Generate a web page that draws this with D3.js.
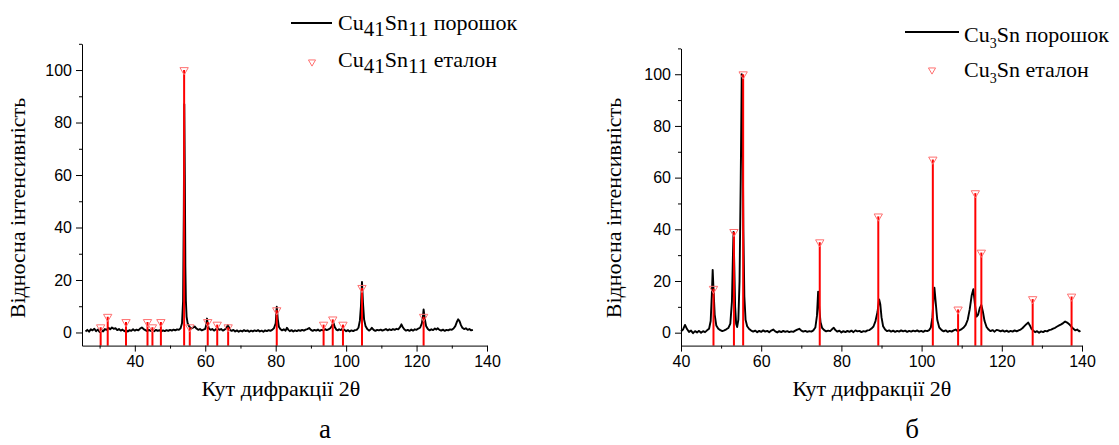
<!DOCTYPE html>
<html>
<head>
<meta charset="utf-8">
<script src="https://cdn.jsdelivr.net/npm/d3@7"></script>
<style>
  body { margin: 0; background: #fff; }
</style>
</head>
<body>
<script>
'use strict';

// powder pattern (a): [2theta, relative intensity]
const powderA = [
  [26,0.4],[26.5,1.0],[27,0.3],[27.5,1.2],[28,0.8],[28.5,1.4],[29,0.5],[29.5,1.1],[30,0.2],[30.5,0.9],
  [31,0.4],[31.5,1.3],[32,1.0],[32.5,1.8],[33,1.2],[33.5,1.9],[34,1.4],[34.5,1.6],[35,0.9],[35.5,1.3],
  [36,0.7],[36.5,1.1],[37,0.5],[37.5,1.0],[38,0.4],[38.5,0.9],[39,0.6],[39.5,1.2],[40,0.7],[40.5,1.1],
  [41,0.8],[41.5,1.5],[42,1.9],[42.5,1.3],[43,0.9],[43.5,0.5],[44,1.0],[44.5,0.6],[45,1.1],[45.5,0.5],
  [46,1.0],[46.5,0.6],[47,0.9],[47.5,0.4],[48,0.8],[48.5,0.5],[49,0.9],[49.5,0.6],[50,1.0],[50.5,0.7],
  [51,1.1],[51.5,0.8],[52,1.2],[52.5,1.0],[53,1.6],[53.4,3.5],[53.7,12],[53.9,45],[54.05,87],[54.2,60],
  [54.35,25],[54.5,12],[54.7,6],[55,3.5],[55.5,2.2],[56,1.5],[56.5,1.8],[57,2.3],[57.5,1.5],[58,1.0],
  [58.5,1.3],[59,0.8],[59.5,1.1],[60,1.4],[60.3,3.0],[60.5,5.3],[60.7,3.2],[61,1.6],[61.5,1.0],[62,1.3],
  [62.5,0.7],[63,1.2],[63.5,1.8],[64,1.0],[64.5,1.3],[65,0.7],[65.5,1.1],[66,1.6],[66.4,2.8],[66.8,1.7],
  [67,1.0],[67.5,0.6],[68,1.0],[68.5,0.4],[69,0.8],[69.5,0.3],[70,0.7],[70.5,0.4],[71,0.9],[71.5,0.5],
  [72,0.8],[72.5,0.3],[73,0.7],[73.5,0.4],[74,0.8],[74.5,0.5],[75,0.9],[75.5,0.4],[76,0.7],[76.5,0.3],
  [77,0.8],[77.5,0.5],[78,0.9],[78.5,0.6],[79,1.0],[79.5,1.6],[80,3.5],[80.3,9.8],[80.6,5.0],[80.9,2.2],
  [81.3,1.3],[81.8,0.8],[82.3,1.2],[82.8,0.7],[83.2,1.8],[83.6,1.0],[84,0.5],[84.5,0.9],[85,0.4],[85.5,0.8],
  [86,0.5],[86.5,0.9],[87,0.6],[87.5,1.0],[88,0.7],[88.5,1.1],[89,1.3],[89.5,1.7],[90,1.0],[90.5,0.6],
  [91,1.0],[91.5,0.7],[92,1.1],[92.5,0.6],[93,1.0],[93.5,0.8],[94,1.3],[94.5,0.9],[95,1.2],[95.5,1.6],
  [96,2.6],[96.4,3.7],[96.8,2.0],[97.2,1.1],[97.6,0.8],[98,1.2],[98.5,0.9],[99,1.5],[99.5,1.0],[100,0.5],
  [100.5,0.9],[101,0.4],[101.5,0.8],[102,0.5],[102.5,0.9],[103,1.0],[103.5,1.8],[103.9,4.5],[104.2,10],[104.5,19.3],
  [104.8,11],[105.1,5],[105.5,2.5],[106,1.3],[106.5,0.7],[107,1.2],[107.3,1.8],[107.8,1.0],[108.3,0.6],[108.8,1.0],
  [109.3,0.8],[109.8,1.1],[110.3,0.7],[110.8,1.0],[111.3,1.3],[111.8,0.8],[112.3,1.2],[112.8,0.9],[113.3,1.3],[113.8,1.0],
  [114.3,1.4],[114.8,1.2],[115.3,2.0],[115.7,3.1],[116.1,2.0],[116.5,1.2],[117,0.7],[117.5,1.0],[118,0.6],[118.5,1.1],
  [119,0.7],[119.5,1.2],[120,1.0],[120.5,1.5],[121,1.8],[121.5,3.5],[121.8,6.0],[122,8.8],[122.3,5.5],[122.7,2.5],
  [123.2,1.3],[123.7,0.8],[124.2,1.2],[124.7,0.9],[125.2,1.5],[125.6,1.1],[126,1.6],[126.5,1.0],[127,0.7],[127.5,1.1],
  [128,0.6],[128.5,1.0],[129,0.8],[129.5,1.2],[130,1.0],[130.5,1.5],[131,2.4],[131.5,4.2],[131.8,5.0],[132.2,4.3],
  [132.6,2.8],[133,1.8],[133.5,1.3],[134,1.6],[134.5,1.0],[135,1.3],[135.5,0.8],[136,1.0]
];

// reference lines (a)
const etalonAAngles = [30.3, 32.3, 37.5, 43.6, 45.0, 47.4, 54.0, 55.6, 60.7, 63.4, 66.5, 80.3, 93.6, 96.2, 99.1, 104.5, 122.0];
const etalonAValues = [2, 6, 4, 4, 2, 4, 100, 2, 4, 3, 2, 8.5, 3, 5, 3, 17, 6];

// powder pattern (б)
const powderB = [
  [40,0.5],[40.5,1.2],[41,3.0],[41.5,1.4],[42,0.3],[42.5,0.8],[43,-0.2],[43.5,0.6],[44,0.1],[44.5,0.7],
  [45,0.0],[45.5,0.6],[46,0.2],[46.5,0.9],[47,1.5],[47.4,4.5],[47.7,15],[47.9,24.3],[48.1,17],[48.4,7],
  [48.8,2.8],[49.3,1.5],[49.8,1.0],[50.3,0.6],[50.8,0.9],[51.3,1.3],[51.8,1.8],[52.3,3.5],[52.7,12],[52.95,30],
  [53.1,39],[53.3,25],[53.5,10],[53.75,3.5],[54.0,2.2],[54.3,5],[54.6,20],[54.9,60],[55.15,100],[55.35,85],
  [55.55,40],[55.8,14],[56.1,5],[56.5,2.5],[57,1.4],[57.5,0.8],[58,0.4],[58.5,0.8],[59,0.2],[59.5,0.7],
  [60,0.3],[60.5,0.9],[61,0.4],[61.5,0.7],[62,0.2],[62.5,0.8],[63,1.2],[63.5,0.5],[64,0.1],[64.5,0.6],
  [65,0.2],[65.5,0.7],[66,0.3],[66.5,0.6],[67,0.2],[67.5,0.5],[68,0.3],[68.5,0.8],[69,1.2],[69.5,1.5],
  [70,0.8],[70.5,0.4],[71,0.7],[71.5,0.3],[72,0.6],[72.5,0.4],[73,0.9],[73.5,2.0],[73.9,6.5],[74.2,15.9],
  [74.5,9],[74.8,4],[75.2,1.8],[75.7,1.0],[76.2,0.5],[76.7,0.8],[77.2,0.6],[77.7,1.4],[78.1,1.9],[78.5,1.0],
  [79,0.4],[79.5,0.8],[80,0.1],[80.5,0.6],[81,0.2],[81.5,0.7],[82,0.3],[82.5,0.8],[83,0.2],[83.5,0.9],
  [84,0.5],[84.5,0.7],[85,0.2],[85.5,0.6],[86,0.4],[86.5,0.9],[87,1.0],[87.5,1.6],[88,2.4],[88.5,4.5],
  [89,8],[89.4,12.9],[89.7,11],[90,6],[90.4,2.5],[90.9,1.2],[91.4,0.6],[91.9,0.9],[92.4,0.4],[92.9,0.8],
  [93.4,0.3],[93.9,0.7],[94.4,0.4],[94.9,0.9],[95.4,0.5],[95.9,0.8],[96.4,0.3],[96.9,0.7],[97.4,0.4],[97.9,0.8],
  [98.4,0.5],[98.9,0.9],[99.4,0.4],[99.9,0.7],[100.4,0.3],[100.9,0.8],[101.4,0.6],[101.9,1.0],[102.3,2.0],[102.7,6],
  [103,14],[103.2,17.4],[103.5,12],[103.9,5],[104.4,2.0],[105,1.0],[105.5,0.5],[106,0.9],[106.5,0.3],[107,0.7],
  [107.5,0.4],[108,0.9],[108.5,1.2],[109,0.6],[109.5,1.0],[110,1.4],[110.5,2.0],[111,3.0],[111.5,5.0],[112,9],
  [112.5,14.5],[112.9,16.8],[113.3,11],[113.7,6.2],[114.1,7],[114.5,9.5],[114.9,10.7],[115.3,8],[115.7,4.5],[116.2,2.2],
  [116.7,1.2],[117.2,0.6],[117.7,1.0],[118.2,0.4],[118.7,1.1],[119.2,0.9],[119.7,0.5],[120.2,0.9],[120.7,0.4],[121.2,0.8],
  [121.7,0.3],[122.2,0.7],[122.7,0.4],[123.2,0.9],[123.7,0.5],[124.2,0.9],[124.7,1.2],[125.2,1.8],[125.7,2.6],[126.2,3.4],
  [126.6,3.9],[127,2.8],[127.4,1.5],[127.8,0.9],[128.3,0.2],[128.8,0.6],[129.3,0.0],[129.8,0.5],[130.3,0.2],[130.8,0.7],
  [131.3,0.5],[131.8,1.0],[132.3,1.2],[132.8,1.6],[133.3,1.9],[133.8,2.4],[134.3,2.8],[134.8,3.2],[135.3,3.7],[135.8,4.3],
  [136.3,3.9],[136.8,3.3],[137.3,2.4],[137.8,1.6],[138.3,0.9],[138.8,1.2],[139.3,0.5],[139.6,0.8]
];

// reference lines (б)
const etalonBAngles = [48.1, 53.2, 55.5, 74.6, 89.2, 102.8, 109.1, 113.4, 114.9, 127.7, 137.4];
const etalonBValues = [17, 39, 100, 35, 45, 67, 9, 54, 31, 13, 14];

// axis ticks
const xTicksA = [40, 60, 80, 100, 120, 140];
const xMinorA = [30, 50, 70, 90, 110, 130];
const xTicksB = [40, 60, 80, 100, 120, 140];
const xMinorB = [50, 70, 90, 110, 130];
const yTicks = [0, 20, 40, 60, 80, 100];
const yMinor = [10, 30, 50, 70, 90, 110];

const yTitle = "Відносна інтенсивність";
const xTitle = "Кут дифракції 2θ";

(function () {

  let svg = "";
  const SERIF = '"Liberation Serif", "Times New Roman", "DejaVu Serif", serif';
  const SANS = '"Liberation Sans", Arial, sans-serif';

  window.onload = function () {
    svg = d3.select('body')
      .append('svg')
      .attr('width', 1119)
      .attr('height', 445);

    drawPanel({
      powder: powderA,
      angles: etalonAAngles,
      values: etalonAValues,
      xDomain: [25, 140],
      xRange: [82, 487],
      yRange: [345.6, 43.8],
      xTicks: xTicksA,
      xMinor: xMinorA,
      yTitleX: 25,
      xTitleX: 281,
      letter: "а",
      letterX: 325
    });

    drawPanel({
      powder: powderB,
      angles: etalonBAngles,
      values: etalonBValues,
      xDomain: [40, 140],
      xRange: [681, 1082],
      yRange: [345.6, 48.4],
      xTicks: xTicksB,
      xMinor: xMinorB,
      yTitleX: 621,
      xTitleX: 872,
      letter: "б",
      letterX: 912
    });

    // legends
    drawLegend(291, 332, 23, 312, 62, 338, 30, 67, "41", "11", 21, 6);
    drawLegend(905, 959, 32, 932, 70, 964, 42, 77, "3", "", 14, 6);
  };

  // one diffraction panel with axes, curve and reference lines
  function drawPanel(cfg) {
    let g = svg.append('g');

    let xScale = d3.scaleLinear().domain(cfg.xDomain).range(cfg.xRange);
    let yScale = d3.scaleLinear().domain([-5, 110]).range(cfg.yRange);
    let bottom = yScale(-5);

    // powder curve
    let line = d3.line()
      .x(d => xScale(d[0]))
      .y(d => yScale(d[1]));
    g.append('path')
      .datum(cfg.powder)
      .attr('d', line)
      .attr('fill', 'none')
      .attr('stroke', '#000')
      .attr('stroke-width', 1.9)
      .attr('stroke-linejoin', 'round');

    // reference drop lines
    g.selectAll('.drop')
      .data(cfg.angles)
      .enter()
      .append('line')
      .attr('x1', d => xScale(d))
      .attr('x2', d => xScale(d))
      .attr('y1', bottom)
      .attr('y2', (d, i) => yScale(cfg.values[i]))
      .attr('stroke', '#ff0000')
      .attr('stroke-width', 2);

    // reference markers (down triangles)
    let tri = d3.symbol().type(d3.symbolTriangle).size(30);
    g.selectAll('.mark')
      .data(cfg.angles)
      .enter()
      .append('path')
      .attr('d', tri)
      .attr('transform', (d, i) => 'translate(' + xScale(d) + ',' + yScale(cfg.values[i]) + ')rotate(180)')
      .attr('fill', 'none')
      .attr('stroke', '#ff7070')
      .attr('stroke-width', 1);

    // x axis
    g.append('g')
      .attr('transform', 'translate(0,' + bottom + ')')
      .call(d3.axisBottom(xScale).tickValues(cfg.xTicks).tickSizeInner(6).tickSizeOuter(0).tickPadding(4));
    g.append('g')
      .attr('transform', 'translate(0,' + bottom + ')')
      .call(d3.axisBottom(xScale).tickValues(cfg.xMinor).tickSize(3).tickFormat(''))
      .select('.domain').remove();

    // y axis
    let left = cfg.xRange[0];
    g.append('g')
      .attr('transform', 'translate(' + left + ',0)')
      .call(d3.axisLeft(yScale).tickValues(yTicks).tickSizeInner(6).tickSizeOuter(0).tickPadding(4));
    g.append('g')
      .attr('transform', 'translate(' + left + ',0)')
      .call(d3.axisLeft(yScale).tickValues(yMinor).tickSize(3).tickFormat(''))
      .select('.domain').remove();

    g.selectAll('.tick text')
      .attr('fill', '#000')
      .style('font-family', SANS)
      .style('font-size', '16px');
    g.selectAll('.domain, .tick line').attr('stroke', '#000');

    // titles
    g.append('text')
      .attr('transform', 'translate(' + cfg.yTitleX + ',208)rotate(-90)')
      .attr('text-anchor', 'middle')
      .style('font-family', SERIF)
      .style('font-size', '22px')
      .text(yTitle);

    g.append('text')
      .attr('x', cfg.xTitleX)
      .attr('y', 396)
      .attr('text-anchor', 'middle')
      .style('font-family', SERIF)
      .style('font-size', '22px')
      .text(xTitle);

    g.append('text')
      .attr('x', cfg.letterX)
      .attr('y', 438)
      .attr('text-anchor', 'middle')
      .style('font-family', SERIF)
      .style('font-size', '27px')
      .text(cfg.letter);
  }

  // legend: line sample, triangle sample and two formula labels
  function drawLegend(lx1, lx2, ly, tx, ty, textX, row1, row2, subCu, subSn, subSize, subShift) {
    svg.append('line')
      .attr('x1', lx1).attr('x2', lx2)
      .attr('y1', ly).attr('y2', ly)
      .attr('stroke', '#000')
      .attr('stroke-width', 2);

    svg.append('path')
      .attr('d', d3.symbol().type(d3.symbolTriangle).size(22))
      .attr('transform', 'translate(' + tx + ',' + ty + ')rotate(180)')
      .attr('fill', 'none')
      .attr('stroke', '#ff7070');

    [[row1, "порошок"], [row2, "еталон"]].forEach(function (r) {
      let t = svg.append('text')
        .attr('x', textX)
        .attr('y', r[0])
        .style('font-family', SERIF)
        .style('font-size', '22px');
      t.append('tspan').text('Cu');
      t.append('tspan').attr('dy', subShift).style('font-size', subSize + 'px').text(subCu);
      t.append('tspan').attr('dy', -subShift).text('Sn');
      if (subSn !== "") {
        t.append('tspan').attr('dy', subShift).style('font-size', subSize + 'px').text(subSn);
        t.append('tspan').attr('dy', -subShift).text(' ' + r[1]);
      } else {
        t.append('tspan').text(' ' + r[1]);
      }
    });
  }

})();
</script>
</body>
</html>
